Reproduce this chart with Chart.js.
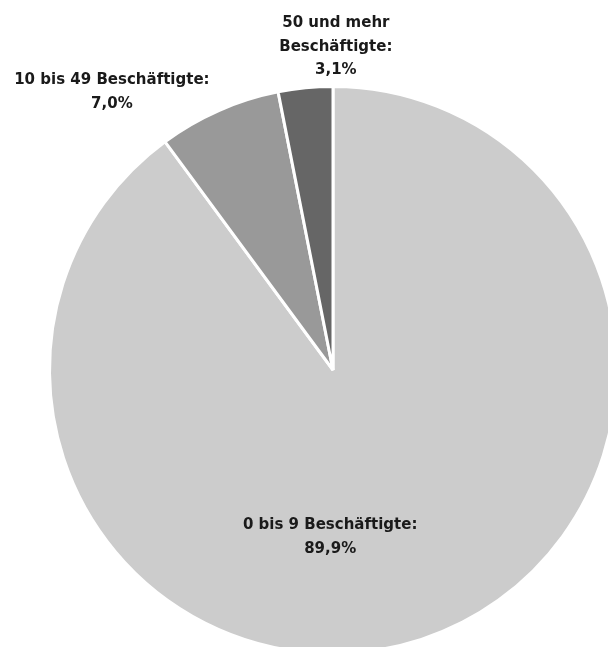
<!DOCTYPE html>
<html>
<head>
<meta charset="utf-8">
<script src="https://cdn.jsdelivr.net/npm/chart.js@4/dist/chart.umd.min.js"></script>
<style>
  html, body { margin: 0; padding: 0; background: #fff; overflow: hidden; }
</style>
</head>
<body>
<canvas id="chart_betriebe" width="666" height="740"></canvas>
<script>
// Betriebe nach Größenklassen
const kategorien = ["0 bis 9 Beschäftigte:", "10 bis 49 Beschäftigte:", "50 und mehr|Beschäftigte:"];
const anteile = [89.9, 7.0, 3.1];
const farben = ["#cccccc", "#999999", "#666666"];

// label anchor relative to pie centre, in units of the radius
const labelLage = [[-0.01, 0.59], [-0.78, -0.98], [0.01, -1.14]];

const labelPlugin = {
    id: "pieLabels",
    afterDatasetsDraw(chart) {
        const ctx = chart.ctx;
        const meta = chart.getDatasetMeta(0);
        ctx.save();
        ctx.font = "bold 15px 'DejaVu Sans'";
        ctx.fillStyle = "#1a1a1a";
        ctx.textAlign = "center";
        ctx.textBaseline = "middle";
        meta.data.forEach(function (arc, i) {
            const r = arc.outerRadius;
            const x = arc.x + labelLage[i][0] * r;
            const y = arc.y + labelLage[i][1] * r;
            const lines = kategorien[i].split("|");
            lines.push(anteile[i].toFixed(1).replace(".", ",") + "%");
            const lh = 23.5;
            const y0 = y - (lines.length - 1) * lh / 2;
            lines.forEach(function (t, k) {
                ctx.fillText(t, x, y0 + k * lh);
            });
        });
        ctx.restore();
    }
};

new Chart("chart_betriebe", {
    type: "pie",
    data: {
        labels: kategorien,
        datasets: [{
            data: anteile,
            backgroundColor: farben,
            borderColor: "#ffffff",
            borderWidth: 3,
        }],
    },
    options: {
        responsive: false,
        animation: false,
        layout: { padding: { left: 48, right: 48, top: 85, bottom: 85 } },
        plugins: {
            legend: { display: false },
            tooltip: { enabled: false },
        },
    },
    plugins: [labelPlugin],
});
</script>
</body>
</html>
